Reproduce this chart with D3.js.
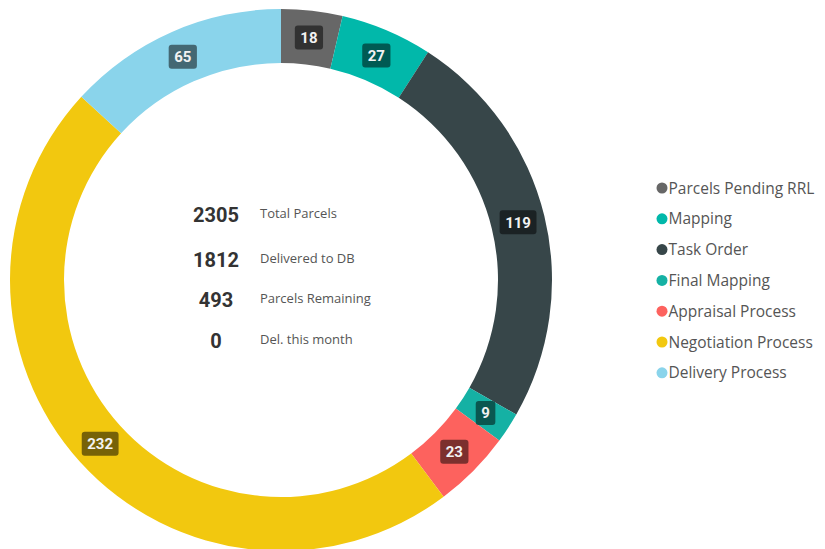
<!DOCTYPE html>
<html>
<head>
<meta charset="utf-8">
<script src="https://cdn.jsdelivr.net/npm/d3@7"></script>
<style>
  body { margin: 0; background: #fff; }
  svg { display: block; }
</style>
</head>
<body>
<svg id="chart" width="825" height="549"></svg>
<script>
// slice data, clockwise from 12 o'clock
var categories = ["Parcels Pending RRL", "Mapping", "Task Order", "Final Mapping",
                  "Appraisal Process", "Negotiation Process", "Delivery Process"];
var values = [18, 27, 119, 9, 23, 232, 65];
var colors = ["#676767", "#01B8AA", "#374649", "#15B1A4", "#FD625E", "#F2C80F", "#8AD4EB"];

// summary in the hole
var statValues = [2305, 1812, 493, 0];
var statLabels = ["Total Parcels", "Delivered to DB", "Parcels Remaining", "Del. this month"];

var svg = d3.select("#chart");
var cx = 281, cy = 280;
var outerR = 271, innerR = 217;

var g = svg.append("g").attr("transform", "translate(" + cx + "," + cy + ")");

var pie = d3.pie().sort(null).value(function(d) { return d; });
var arc = d3.arc().innerRadius(innerR).outerRadius(outerR);
var arcs = pie(values);

g.selectAll(".slice")
    .data(arcs)
    .enter().append("path")
    .attr("class", "slice")
    .attr("d", arc)
    .attr("fill", function(d, i) { return colors[i]; });

// data labels: dark rounded boxes at the centroid
var lab = g.selectAll(".lab")
    .data(arcs)
    .enter().append("g")
    .attr("class", "lab")
    .attr("transform", function(d) { return "translate(" + arc.centroid(d) + ")"; });

lab.append("text")
    .attr("text-anchor", "middle")
    .attr("dy", "0.36em")
    .style("font-family", "Roboto, sans-serif")
    .style("font-weight", "bold")
    .style("font-size", "15px")
    .attr("fill", "#f2f2f2")
    .text(function(d) { return d.data; });

lab.insert("rect", "text")
    .each(function(d, i) {
        var w = this.parentNode.querySelector("text").getComputedTextLength() + 11;
        d3.select(this)
            .attr("x", -w / 2).attr("y", -12)
            .attr("width", w).attr("height", 24)
            .attr("rx", 3).attr("ry", 3)
            .attr("fill", d3.rgb(colors[i]).darker(2));
    });

// centre summary
var statY = [222, 267, 307, 348];
var stats = svg.selectAll(".stat")
    .data(statValues)
    .enter().append("g")
    .attr("class", "stat");

stats.append("text")
    .attr("x", 216)
    .attr("y", function(d, i) { return statY[i]; })
    .attr("text-anchor", "middle")
    .style("font-family", "Roboto, sans-serif")
    .style("font-weight", "bold")
    .style("font-size", "20px")
    .attr("fill", "#333")
    .text(function(d) { return d; });

stats.append("text")
    .attr("x", 260)
    .attr("y", function(d, i) { return statY[i] - 4; })
    .style("font-family", "'Open Sans', sans-serif")
    .style("font-size", "13px")
    .attr("fill", "#555")
    .text(function(d, i) { return statLabels[i]; });

// legend
var legend = svg.selectAll(".legend")
    .data(categories)
    .enter().append("g")
    .attr("class", "legend")
    .attr("transform", function(d, i) { return "translate(662," + (188 + i * 30.8) + ")"; });

legend.append("circle")
    .attr("r", 5.5)
    .attr("fill", function(d, i) { return colors[i]; });

legend.append("text")
    .attr("x", 6.5)
    .attr("dy", "0.36em")
    .style("font-family", "'Open Sans', sans-serif")
    .style("font-size", "15.5px")
    .attr("fill", "#555")
    .text(function(d) { return d; });
</script>
</body>
</html>
